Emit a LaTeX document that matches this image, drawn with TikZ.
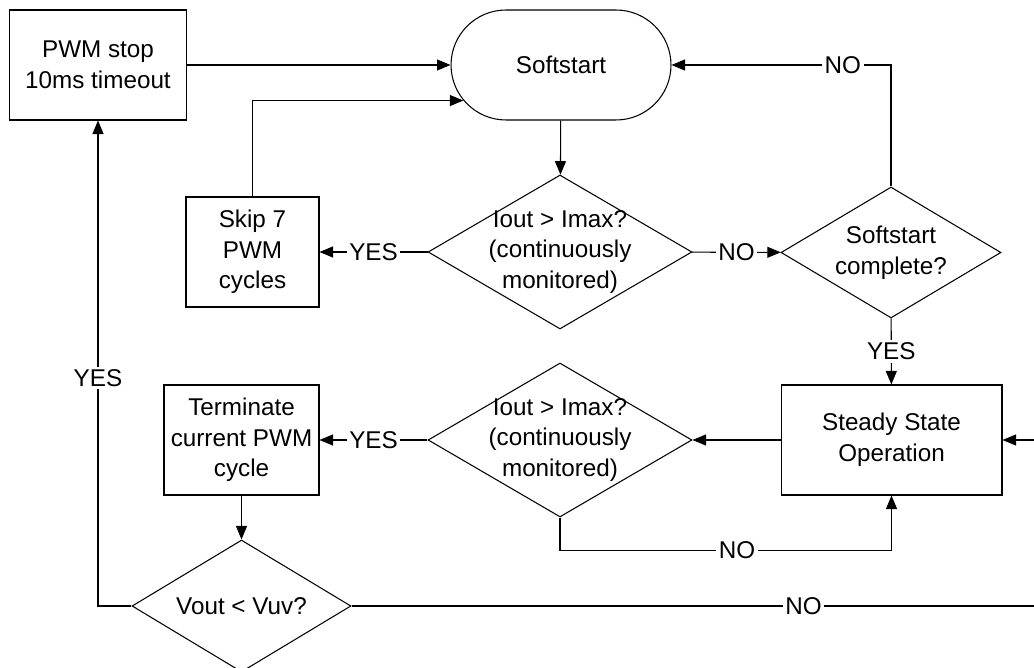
\documentclass[tikz,border=0pt]{standalone}
\usepackage{fontspec}
\setmainfont{Liberation Sans}
\usetikzlibrary{shapes.geometric,shapes.misc,arrows.meta}
\tikzset{
  block/.style = {draw, rectangle, minimum height=2.2cm, align=center, inner sep=0pt},
  terminal/.style = {draw, rounded rectangle, minimum width=4.4cm, minimum height=2.2cm, inner sep=0pt},
  decision/.style = {draw, diamond, inner sep=0pt},
  lbl/.style = {fill=white, inner sep=1.5pt},
  arr/.style = {-{Triangle[length=0.27cm,width=0.22cm]}},
  every label/.append style = {align=center, inner sep=0pt},
}

\begin{document}
\begin{tikzpicture}[x=0.02cm, y=-0.02cm, line width=0.6pt,
    font=\fontsize{13.8}{17.4}\selectfont]
  \useasboundingbox (0,0) rectangle (1034,668);
  \clip (0,0) rectangle (1034,668);
  % blocks
  \node[block, minimum width=3.54cm] (pwm) at (98,65) {PWM stop\\10ms timeout};
  \node[terminal] (start) at (561,65) {Softstart};
  \node[block, minimum width=2.66cm] (skip) at (252.5,252) {Skip 7\\PWM\\cycles};
  \node[decision, minimum width=5.28cm, minimum height=3.08cm,
    label={center:Iout > Imax?\\(continuously\\monitored)}] (chk1) at (560,252) {};
  \node[decision, minimum width=4.4cm, minimum height=2.62cm,
    label={center:Softstart\\complete?}] (done) at (891,252.5) {};
  \node[block, minimum width=4.42cm] (steady) at (891.5,440) {Steady State\\Operation};
  \node[decision, minimum width=5.28cm, minimum height=3.08cm,
    label={center:Iout > Imax?\\(continuously\\monitored)}] (chk2) at (560,440) {};
  \node[block, minimum width=3.1cm] (term) at (241.5,440) {Terminate\\current PWM\\cycle};
  \node[decision, minimum width=4.38cm, minimum height=2.64cm,
    label={center:Vout < Vuv?}] (vuv) at (241.5,606) {};
  \coordinate (loop) at (1050,606);
  % softstart loop
  \draw[arr] (pwm) -- (start);
  \draw[arr] (skip.north) |- (start.200);
  \draw[arr] (start) -- (chk1);
  \draw[arr] (chk1) -- node[lbl] {YES} (skip);
  \draw[arr] (chk1) -- node[lbl] {NO} (done);
  \draw[arr] (done.north) |- node[lbl, pos=0.61] {NO} (start.east);
  \draw[arr] (done) -- node[lbl] {YES} (steady);
  % steady state loop
  \draw[arr] (steady) -- (chk2);
  \draw[arr] (chk2) -- node[lbl] {YES} (term);
  \draw[arr] (chk2.south) -- ++(0,33) -| node[lbl, pos=0.267] {NO} (steady.south);
  \draw[arr] (term) -- (vuv);
  \draw[arr] (vuv.west) -| node[lbl, pos=0.735] {YES} (pwm.south);
  \draw[arr] (vuv.east) -- node[lbl, pos=0.647] {NO} (loop) |- (steady.east);
\end{tikzpicture}
\end{document}
